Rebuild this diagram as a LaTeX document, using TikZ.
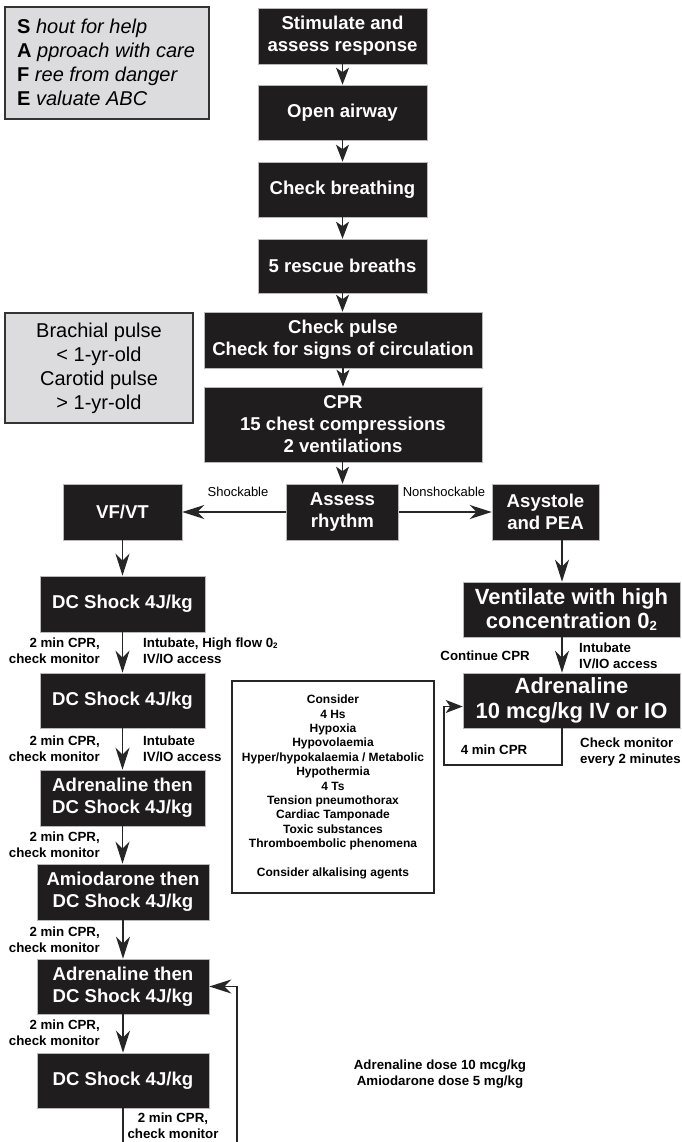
\documentclass[tikz,border=0pt]{standalone}
\usepackage{fontspec}
\setmainfont{Liberation Sans}
\usetikzlibrary{arrows.meta}

\definecolor{boxfill}{HTML}{1F1D1E}
\definecolor{notefill}{HTML}{DCDCDE}
\definecolor{noteedge}{HTML}{333333}

\newcommand\stepfont{\bfseries\fontsize{18.6}{22}\selectfont}
\newcommand\bigstepfont{\bfseries\fontsize{22}{24.5}\selectfont}
\newcommand\notefont{\fontsize{20}{24}\selectfont}
\newcommand\lblfont{\bfseries\fontsize{13.3}{16}\selectfont}
\newcommand\tagfont{\fontsize{13}{15}\selectfont}
\newcommand\causefont{\bfseries\fontsize{12}{14.4}\selectfont}
\newcommand\subtwo{\raisebox{-0.15ex}{\scalebox{0.6}{2}}}

\begin{document}
\begin{tikzpicture}[x=1pt,y=-1pt,
  stepbox/.style={fill=boxfill, draw=gray!55, line width=0.6pt, text=white,
    font=\stepfont, align=center, inner sep=0pt},
  notebox/.style={fill=notefill, draw=noteedge, line width=2.4pt, inner sep=0pt},
  lbl/.style={font=\lblfont, inner sep=0pt},
  link/.style={draw=black!85, line width=1.2pt},
  arr/.style={link, -{Stealth[length=17pt,width=13pt,inset=4.5pt]}},
  arrL/.style={link, -{Stealth[length=22pt,width=14pt,inset=7pt]}},
]
\useasboundingbox (0,0) rectangle (681,1142);

% ---- reminder boxes ----
\node[notebox, minimum width=204pt, minimum height=112pt] (safe) at (107,63) {};
\node[font=\notefont, align=left, anchor=west, inner sep=0pt] (safetxt) at (17,62)
  {\textbf{S} \textit{hout for help}\\
   \textbf{A} \textit{pproach with care}\\
   \textbf{F} \textit{ree from danger}\\
   \textbf{E} \textit{valuate ABC}};

\node[notebox, minimum width=188pt, minimum height=110pt, font=\notefont, align=center]
  (pulsenote) at (99,368) {Brachial pulse\\< 1-yr-old\\Carotid pulse\\> 1-yr-old};

% ---- main column ----
\node[stepbox, minimum width=169pt, minimum height=56pt] (stim)    at (342.5,36)  {Stimulate and\\assess response};
\node[stepbox, minimum width=169pt, minimum height=55pt] (airway)  at (342.5,112.5) {Open airway};
\node[stepbox, minimum width=169pt, minimum height=55pt] (breath)  at (342.5,189.5) {Check breathing};
\node[stepbox, minimum width=169pt, minimum height=54pt] (rescue)  at (342.5,266)  {5 rescue breaths};
\node[stepbox, minimum width=278pt, minimum height=56pt] (pulse)   at (343,340)    {Check pulse\\Check for signs of circulation};
\node[stepbox, minimum width=278pt, minimum height=75pt] (cpr)     at (343,424.5)  {CPR\\15 chest compressions\\2 ventilations};
\node[stepbox, minimum width=112pt, minimum height=56pt] (assess)  at (342.5,512)  {Assess\\rhythm};
\node[stepbox, minimum width=119pt, minimum height=56pt] (vfvt)    at (122.5,512)  {VF/VT};
\node[stepbox, minimum width=107pt, minimum height=56pt] (asys)    at (545.5,512)  {Asystole\\and PEA};

% ---- shockable branch ----
\node[stepbox, minimum width=165pt, minimum height=56pt] (dc1)  at (122.5,604) {DC Shock 4J/kg};
\node[stepbox, minimum width=165pt, minimum height=55pt] (dc2)  at (122.5,700.5) {DC Shock 4J/kg};
\node[stepbox, minimum width=165pt, minimum height=56pt] (adr1) at (122.5,798) {Adrenaline then\\DC Shock 4J/kg};
\node[stepbox, minimum width=172pt, minimum height=56pt] (amio) at (123,892)   {Amiodarone then\\DC Shock 4J/kg};
\node[stepbox, minimum width=172pt, minimum height=55pt] (adr2) at (123,986.5) {Adrenaline then\\DC Shock 4J/kg};
\node[stepbox, minimum width=172pt, minimum height=55pt] (dc3)  at (123,1080.5) {DC Shock 4J/kg};

% ---- non-shockable branch ----
\node[stepbox, font=\bigstepfont, minimum width=217pt, minimum height=55pt] (vent) at (571.5,609.5)
  {Ventilate with high\\concentration 0\subtwo};
\node[stepbox, font=\bigstepfont, minimum width=217pt, minimum height=55pt] (adrR) at (571.5,700.5)
  {Adrenaline\\10 mcg/kg IV or IO};

% ---- reversible causes ----
\node[draw=black!85, line width=2pt, fill=white, minimum width=202pt, minimum height=212pt,
  font=\causefont, align=center, inner sep=0pt] (causes) at (333,787)
  {Consider\\4 Hs\\Hypoxia\\Hypovolaemia\\Hyper/hypokalaemia / Metabolic\\Hypothermia\\
   4 Ts\\Tension pneumothorax\\Cardiac Tamponade\\Toxic substances\\Thromboembolic phenomena\\[14.4pt]
   Consider alkalising agents};

% ---- connectors ----
\draw[arr] (stim) -- (airway);
\draw[arr] (airway) -- (breath);
\draw[arr] (breath) -- (rescue);
\draw[arr] (rescue.south) -- (rescue.south |- pulse.north);
\draw[arr] (pulse) -- (cpr);
\draw[arr] (cpr.south -| assess) -- (assess.north);
\draw[arrL] (assess.west) -- (vfvt.east);
\draw[arrL] (assess.east) -- (asys.west);
\draw[arrL] (vfvt.south) -- (vfvt.south |- dc1.north);
\draw[arrL] (dc1) -- (dc2);
\draw[arrL] (dc2) -- (adr1);
\draw[arrL] (adr1.south) -- (adr1.south |- amio.north);
\draw[arrL] (amio) -- (adr2);
\draw[arrL] (adr2) -- (dc3);

\coordinate (rx) at (562,0);
\draw[arrL] (asys.south -| rx) -- (vent.north -| rx);
\draw[arrL] (vent.south -| rx) -- (adrR.north -| rx);
\coordinate (loopcorner) at (444,765);
\draw[arr] (adrR.south -| rx) |- (loopcorner) |- ([yshift=-6pt]adrR.west);

\coordinate (bottomedge) at (237,1142);
\draw[link] (dc3.south) -- (dc3.south |- bottomedge);
\draw[arrL] (bottomedge) |- (adr2.east);

% ---- labels ----
\node[font=\tagfont, inner sep=0pt] (shock) at (238,492) {Shockable};
\node[font=\tagfont, inner sep=0pt] (nonshock) at (444,492) {Nonshockable};

\node[lbl, align=right, anchor=east] (l1a) at (100,651) {2 min CPR,\\check monitor};
\node[lbl, align=left, anchor=west]  (l1b) at (143,651) {Intubate, High flow 0\subtwo\\IV/IO access};
\node[lbl, align=right, anchor=east] (l2a) at (100,749) {2 min CPR,\\check monitor};
\node[lbl, align=left, anchor=west]  (l2b) at (143,749) {Intubate\\IV/IO access};
\node[lbl, align=right, anchor=east] (l3)  at (100,845) {2 min CPR,\\check monitor};
\node[lbl, align=right, anchor=east] (l4)  at (100,940) {2 min CPR,\\check monitor};
\node[lbl, align=right, anchor=east] (l5)  at (100,1033) {2 min CPR,\\check monitor};
\node[lbl, align=center] (l6) at (173,1126) {2 min CPR,\\check monitor};

\node[lbl, anchor=east] (contcpr) at (530,656) {Continue CPR};
\node[lbl, align=left, anchor=west] (intubR) at (579,656) {Intubate\\IV/IO access};
\node[lbl] (fourmin) at (494,750) {4 min CPR};
\node[lbl, align=left, anchor=west] (checkmon) at (580,752) {Check monitor\\every 2 minutes};

\node[lbl, align=center] (doses) at (440,1074) {Adrenaline dose 10 mcg/kg\\Amiodarone dose 5 mg/kg};
\end{tikzpicture}
\end{document}
